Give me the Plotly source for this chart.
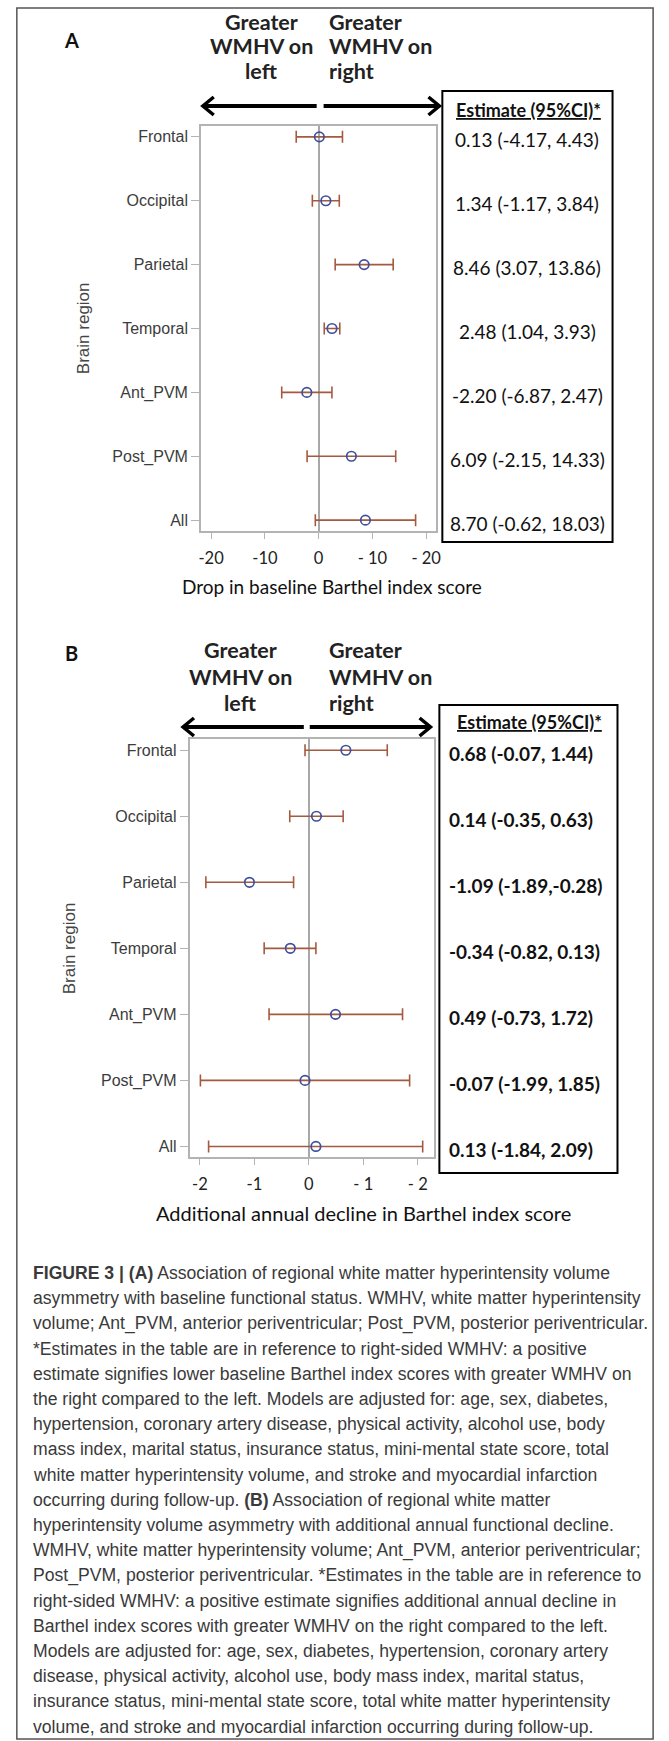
import plotly.graph_objects as go

W, H = 669, 1741

# ---------------- data ----------------
regions = ["Frontal", "Occipital", "Parietal", "Temporal", "Ant_PVM", "Post_PVM", "All"]

a_est = [0.13, 1.34, 8.46, 2.48, -2.20, 6.09, 8.70]
a_lo = [-4.17, -1.17, 3.07, 1.04, -6.87, -2.15, -0.62]
a_hi = [4.43, 3.84, 13.86, 3.93, 2.47, 14.33, 18.03]
a_text = ["0.13 (-4.17, 4.43)", "1.34 (-1.17, 3.84)", "8.46 (3.07, 13.86)",
          "2.48 (1.04, 3.93)", "-2.20 (-6.87, 2.47)", "6.09 (-2.15, 14.33)",
          "8.70 (-0.62, 18.03)"]

b_est = [0.68, 0.14, -1.09, -0.34, 0.49, -0.07, 0.13]
b_lo = [-0.07, -0.35, -1.89, -0.82, -0.73, -1.99, -1.84]
b_hi = [1.44, 0.63, -0.28, 0.13, 1.72, 1.85, 2.09]
b_text = ["0.68 (-0.07, 1.44)", "0.14 (-0.35, 0.63)", "-1.09 (-1.89,-0.28)",
          "-0.34 (-0.82, 0.13)", "0.49 (-0.73, 1.72)", "-0.07 (-1.99, 1.85)",
          "0.13 (-1.84, 2.09)"]

a_tickvals = [-20, -10, 0, 10, 20]
a_ticktext = ["-20", "-10", "0", "- 10", "- 20"]
b_tickvals = [-2, -1, 0, 1, 2]
b_ticktext = ["-2", "-1", "0", "- 1", "- 2"]

a_xtitle = "Drop in baseline Barthel index score"
b_xtitle = "Additional annual decline in Barthel index score"
ytitle = "Brain region"
left_lbl = ["Greater", "WMHV on", "left"]
right_lbl = ["Greater", "WMHV on", "right"]
header = "Estimate (95%CI)*"

caption = [
    "<b>FIGURE 3 | (A)</b> Association of regional white matter hyperintensity volume",
    "asymmetry with baseline functional status. WMHV, white matter hyperintensity",
    "volume; Ant_PVM, anterior periventricular; Post_PVM, posterior periventricular.",
    "*Estimates in the table are in reference to right-sided WMHV: a positive",
    "estimate signifies lower baseline Barthel index scores with greater WMHV on",
    "the right compared to the left. Models are adjusted for: age, sex, diabetes,",
    "hypertension, coronary artery disease, physical activity, alcohol use, body",
    "mass index, marital status, insurance status, mini-mental state score, total",
    "white matter hyperintensity volume, and stroke and myocardial infarction",
    "occurring during follow-up. <b>(B)</b> Association of regional white matter",
    "hyperintensity volume asymmetry with additional annual functional decline.",
    "WMHV, white matter hyperintensity volume; Ant_PVM, anterior periventricular;",
    "Post_PVM, posterior periventricular. *Estimates in the table are in reference to",
    "right-sided WMHV: a positive estimate signifies additional annual decline in",
    "Barthel index scores with greater WMHV on the right compared to the left.",
    "Models are adjusted for: age, sex, diabetes, hypertension, coronary artery",
    "disease, physical activity, alcohol use, body mass index, marital status,",
    "insurance status, mini-mental state score, total white matter hyperintensity",
    "volume, and stroke and myocardial infarction occurring during follow-up.",
]

# ---------------- styling ----------------
CI_COLOR = "#a45a3e"
MK_COLOR = "#3d4f9d"
FRAME = "#b3b3b3"
CAL = "Lato, Open Sans, sans-serif"
ARI = "Liberation Sans, Arial, sans-serif"


def X(px):
    return px / W


def Y(py):
    return 1 - py / H


fig = go.Figure()

for est, lo, hi, xa, ya in [(a_est, a_lo, a_hi, "x", "y"), (b_est, b_lo, b_hi, "x2", "y2")]:
    fig.add_trace(go.Scatter(
        x=est, y=regions, mode="markers", xaxis=xa, yaxis=ya,
        error_x=dict(type="data", symmetric=False,
                     array=[h - e for e, h in zip(est, hi)],
                     arrayminus=[e - l for e, l in zip(est, lo)],
                     color=CI_COLOR, thickness=1.6, width=6),
        marker=dict(symbol="circle-open", size=9.5, color=MK_COLOR, line=dict(width=1.7)),
        showlegend=False, hoverinfo="skip"))


def xax(domain, rng, tv, tt):
    return dict(domain=domain, range=rng, tickvals=tv, ticktext=tt, ticks="outside",
                ticklen=6, tickwidth=1.3, tickcolor=FRAME, showline=True, linecolor=FRAME,
                linewidth=1.5, mirror=True, showgrid=False, zeroline=True,
                zerolinecolor="#a8a8a8", zerolinewidth=1.5, ticklabelstandoff=5,
                tickfont=dict(family=CAL, size=16.5, color="#222222"), fixedrange=True)


def yax(domain, rng):
    return dict(domain=domain, type="category", categoryorder="array",
                categoryarray=regions, range=rng, ticks="outside", ticklen=8,
                tickwidth=1.3, tickcolor=FRAME, showline=True, linecolor=FRAME,
                linewidth=1.5, mirror=True, showgrid=False, zeroline=False,
                tickfont=dict(family=ARI, size=16, color="#3c3c3c"), fixedrange=True)


fig.update_layout(
    width=W, height=H, autosize=False,
    margin=dict(l=0, r=0, t=0, b=0),
    paper_bgcolor="white", plot_bgcolor="white",
    xaxis=xax([X(201), X(439)], [-21.9, 21.9], a_tickvals, a_ticktext) | dict(anchor="y"),
    yaxis=yax([Y(531), Y(126)], [6.17, -0.17]) | dict(anchor="x"),
    xaxis2=xax([X(189.5), X(436.7)], [-2.19, 2.30], b_tickvals, b_ticktext) | dict(anchor="y2"),
    yaxis2=yax([Y(1157), Y(739)], [6.16, -0.17]) | dict(anchor="x2"),
)

ann = []
shapes = []

# outer frame
shapes.append(dict(type="rect", xref="paper", yref="paper", x0=X(15), x1=X(658),
                   y0=Y(1739), y1=Y(8), line=dict(color="#555555", width=1.5)))

panels = [
    dict(lab="A", laby=40, lcx=262, rx=331, gy=[22, 46, 71], ay=106,
         la=(203, 318), ra=(325, 442), box=(445, 617, 91, 542), hy=110,
         text=a_text, yref="y", bold=False, tx=531, txa="center",
         ytx=83, yty=328, xt=a_xtitle, xtx=333, xty=587),
    dict(lab="B", laby=653, lcx=241, rx=331, gy=[650, 677, 703], ay=727,
         la=(183, 305), ra=(311, 433), box=(442, 622, 705, 1173), hy=722,
         text=b_text, yref="y2", bold=True, tx=450, txa="left",
         ytx=68, yty=948, xt=b_xtitle, xtx=365, xty=1213),
]


def P(px, py):
    return "%f,%f" % (X(px), Y(py))


for p in panels:
    ann.append(dict(text="<b>%s</b>" % p["lab"], x=X(70), y=Y(p["laby"]), xref="paper",
                    yref="paper", showarrow=False, xanchor="center", yanchor="middle",
                    font=dict(family=CAL, size=20, color="#111111")))
    # direction labels
    for ln, gy in zip(left_lbl, p["gy"]):
        ann.append(dict(text="<b>%s</b>" % ln, x=X(p["lcx"]), y=Y(gy), xref="paper",
                        yref="paper", showarrow=False, xanchor="center", yanchor="middle",
                        font=dict(family=CAL, size=21.5, color="#222222")))
    for ln, gy in zip(right_lbl, p["gy"]):
        ann.append(dict(text="<b>%s</b>" % ln, x=X(p["rx"] - 3), y=Y(gy), xref="paper",
                        yref="paper", showarrow=False, xanchor="left", yanchor="middle",
                        font=dict(family=CAL, size=21.5, color="#222222")))
    # arrows (decorative)
    l0, l1 = p["la"]
    r0, r1 = p["ra"]
    ay = p["ay"]
    for x0, x1 in [(l0 + 2, l1), (r0, r1 - 2)]:
        shapes.append(dict(type="line", xref="paper", yref="paper", x0=X(x0), x1=X(x1),
                           y0=Y(ay), y1=Y(ay), line=dict(color="#000000", width=4)))
    shapes.append(dict(type="path", xref="paper", yref="paper",
                       path="M %s L %s L %s" % (P(l0 + 11, ay - 9), P(l0, ay), P(l0 + 11, ay + 9)),
                       line=dict(color="#000000", width=3.5)))
    shapes.append(dict(type="path", xref="paper", yref="paper",
                       path="M %s L %s L %s" % (P(r1 - 11, ay - 9), P(r1, ay), P(r1 - 11, ay + 9)),
                       line=dict(color="#000000", width=3.5)))
    # estimate box
    bx0, bx1, by0, by1 = p["box"]
    shapes.append(dict(type="rect", xref="paper", yref="paper", x0=X(bx0), x1=X(bx1),
                       y0=Y(by1), y1=Y(by0), line=dict(color="#000000", width=2)))
    ann.append(dict(text="<b><u>%s</u></b>" % header, x=X((bx0 + bx1) / 2 + 1), y=Y(p["hy"]),
                    xref="paper", yref="paper", showarrow=False, xanchor="center",
                    yanchor="middle", font=dict(family=CAL, size=18, color="#111111")))
    for reg, t in zip(regions, p["text"]):
        ann.append(dict(text=("<b>%s</b>" % t) if p["bold"] else t,
                        x=X(p["tx"]), y=reg, xref="paper", yref=p["yref"],
                        yshift=-3, showarrow=False, xanchor=p["txa"], yanchor="middle",
                        font=dict(family=CAL, size=19, color="#111111")))
    # y title
    ann.append(dict(text=ytitle, x=X(p["ytx"]), y=Y(p["yty"]), xref="paper", yref="paper",
                    textangle=-90, showarrow=False, xanchor="center", yanchor="middle",
                    font=dict(family=ARI, size=17, color="#444444")))
    # x title
    ann.append(dict(text=p["xt"], x=X(p["xtx"]), y=Y(p["xty"]), xref="paper", yref="paper",
                    showarrow=False, xanchor="center", yanchor="middle",
                    font=dict(family=CAL, size=19 if p["lab"] == "A" else 20, color="#111111")))

for i, line in enumerate(caption):
    ann.append(dict(text=line, x=X(29), y=Y(1273 + 25.2 * i), xref="paper", yref="paper",
                    showarrow=False, xanchor="left", yanchor="middle",
                    font=dict(family=ARI, size=17.6, color="#3a3a3a")))

fig.update_layout(annotations=ann, shapes=shapes)
fig.write_html("out.html", config={"displayModeBar": False},
               post_script="document.body.style.margin='0px';document.body.style.overflow='hidden';")
